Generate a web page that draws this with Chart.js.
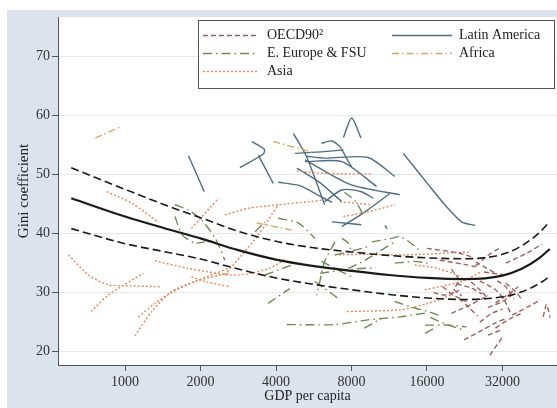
<!DOCTYPE html>
<html>
<head>
<meta charset="utf-8">
<script src="https://cdn.jsdelivr.net/npm/chart.js@4"></script>
<style>
  html, body { margin: 0; padding: 0; background: #fff; }
  canvas { display: block; }
</style>
</head>
<body>
<canvas id="chart" width="557" height="408"></canvas>
<script>
// axis ticks
const X_TICKS = [1000, 2000, 4000, 8000, 16000, 32000];
const Y_TICKS = [20, 30, 40, 50, 60, 70];

// fitted curve with its band (GDP per capita, Gini)
const FIT_GDP = [610, 1000, 1414, 2000, 2828, 4000, 5657, 8000, 11314, 16000, 22627, 32000, 38000, 45000, 49400];
const FIT_MID = [46.0, 42.9, 41.0, 39.2, 37.2, 35.6, 34.5, 33.7, 33.0, 32.5, 32.3, 32.9, 34.0, 35.9, 37.4];
const FIT_HIGH = [51.15, 47.5, 45.0, 42.7, 40.4, 38.7, 37.6, 36.9, 36.3, 35.9, 35.75, 36.5, 37.9, 40.2, 42.05];
const FIT_LOW = [40.85, 38.3, 37.0, 35.7, 34.0, 32.5, 31.4, 30.5, 29.7, 29.1, 28.85, 29.3, 30.1, 31.6, 32.75];

// country paths: [GDP per capita, Gini]
const OECD = [
  [[16000, 37.5], [21000, 36.8], [24000, 36.1]],
  [[18000, 35.5], [22500, 34.8], [25000, 34.4]],
  [[25000, 35.2], [30000, 33.3]],
  [[25000, 34.5], [28000, 36.3], [31000, 37.5]],
  [[20000, 34.0], [21500, 32.0], [20500, 30.6], [22000, 29.5]],
  [[21000, 31.5], [24000, 30.8], [26500, 29.8]],
  [[26000, 32.0], [30000, 30.5], [32500, 28.8], [34500, 26.5]],
  [[30000, 28.3], [34000, 29.8], [37000, 31.0]],
  [[33000, 31.6], [36000, 30.2], [38500, 28.7]],
  [[22500, 22.0], [26700, 23.7], [29700, 24.8], [33000, 25.6]],
  [[28500, 19.4], [32000, 22.5]],
  [[30000, 24.0], [34000, 25.5], [38000, 26.5]],
  [[35000, 26.2], [40000, 27.5], [45500, 28.8]],
  [[46500, 25.9], [48000, 28.0], [49500, 25.8]],
  [[28000, 27.5], [32000, 28.5], [36000, 30.0]],
  [[27000, 33.5], [33000, 33.0]],
  [[33000, 35.0], [40000, 36.7], [46000, 38.2]],
  [[18500, 31.0], [20500, 29.5], [23000, 28.5]],
  [[17000, 30.0], [19000, 29.6], [21500, 30.4]],
  [[21500, 29.0], [23500, 27.5], [25500, 26.0]],
  [[30500, 32.0], [33000, 31.0], [35500, 29.0]],
  [[24000, 31.8], [26000, 30.5], [28000, 29.0]],
  [[20000, 26.5], [24000, 28.0], [28000, 29.5]],
  [[26000, 25.0], [29000, 26.5], [32000, 27.2]],
  [[28000, 22.8], [31700, 23.7]]
];

const LATAM = [
  [[1790, 53.2], [2070, 47.1]],
  [[3200, 55.6], [3590, 54.3], [3560, 53.5], [2870, 51.2]],
  [[3400, 53.3], [3900, 48.5]],
  [[4690, 57.0], [5300, 53.0], [6250, 44.9]],
  [[4840, 51.1], [6000, 48.6], [7320, 45.4]],
  [[4080, 48.7], [5000, 48.1], [5900, 46.5], [6700, 45.3]],
  [[7430, 56.3], [8010, 59.6], [8730, 56.2]],
  [[6070, 55.3], [6680, 55.7], [7200, 54.7], [7770, 52.2], [8000, 51.4]],
  [[4760, 53.6], [6250, 53.9], [7430, 54.2]],
  [[5300, 53.1], [6250, 52.8], [9300, 52.9], [11900, 49.7]],
  [[5220, 52.2], [7320, 52.2], [10070, 48.0]],
  [[6250, 45.4], [7320, 47.4], [8760, 47.1], [9770, 46.0]],
  [[7320, 41.2], [9060, 43.7], [11370, 46.8]],
  [[6680, 42.0], [8760, 41.5]],
  [[10880, 41.4], [11100, 40.8]],
  [[12860, 53.6], [16200, 48.3], [18850, 44.9], [22000, 42.0], [24900, 41.4]],
  [[5220, 52.5], [7930, 48.3], [12460, 46.6]]
];

const EEUROPE = [
  [[1580, 44.9], [1790, 44.0], [2020, 42.3], [2290, 39.2], [2500, 35.5]],
  [[1580, 42.9], [1690, 39.8], [1900, 38.4], [2080, 38.6]],
  [[3300, 40.3], [3610, 42.0]],
  [[4080, 42.6], [4910, 41.8], [5720, 39.2]],
  [[3610, 33.0], [4620, 34.7]],
  [[3720, 28.2], [4540, 30.7]],
  [[4420, 24.6], [6870, 24.6], [9300, 25.4], [12460, 25.9], [16000, 26.6]],
  [[7320, 39.2], [7770, 38.4], [8000, 36.9]],
  [[6870, 38.6], [6250, 35.3], [5980, 31.9], [5810, 29.6]],
  [[5720, 31.9], [6250, 30.7], [7040, 29.1]],
  [[6070, 35.3], [6870, 34.1], [8000, 32.7]],
  [[6870, 36.4], [7770, 36.9], [9300, 37.8]],
  [[7770, 34.1], [9060, 35.5], [10240, 36.9], [11900, 38.6]],
  [[7500, 47.0], [8300, 45.5], [8900, 43.2]],
  [[9630, 38.6], [11550, 39.2], [12460, 39.5], [13400, 38.8], [15200, 36.9]],
  [[11900, 35.0], [14300, 35.3], [16200, 35.0]],
  [[11900, 28.5], [14300, 27.4], [16200, 26.8], [17800, 26.2]],
  [[15700, 24.5], [19400, 24.5], [23000, 24.2]],
  [[15700, 23.1], [17500, 24.2]],
  [[16500, 25.8], [19500, 24.5], [22000, 23.8]],
  [[9000, 24.0], [10500, 25.6]],
  [[6000, 33.3], [8000, 34.0], [10000, 34.2]]
];

const AFRICA = [
  [[760, 56.2], [960, 58.1]],
  [[3900, 55.6], [5600, 53.8]],
  [[3350, 41.8], [4620, 40.6]]
];

const ASIA = [
  [[845, 47.1], [1060, 45.2], [1360, 41.9]],
  [[595, 36.4], [714, 33.0], [858, 31.3], [970, 31.2], [1400, 31.0]],
  [[732, 26.8], [858, 29.6], [1180, 33.3]],
  [[1096, 22.7], [1277, 26.8], [1535, 30.2], [1900, 31.9], [2580, 34.1]],
  [[1130, 25.9], [1317, 28.2], [1511, 29.9], [1900, 31.9], [2580, 33.3]],
  [[1317, 35.4], [1790, 34.1], [2620, 33.0], [3100, 33.2], [3800, 34.2], [4400, 35.8]],
  [[1840, 32.7], [2080, 31.9], [2620, 31.0]],
  [[1840, 40.9], [2360, 46.0]],
  [[2500, 33.0], [2920, 36.4], [3400, 39.8], [4080, 44.9]],
  [[2500, 43.2], [3100, 44.3], [4080, 44.9], [5370, 45.4], [6250, 45.7]],
  [[4840, 50.6], [6250, 50.2], [9630, 50.1]],
  [[7430, 42.9], [9330, 43.7], [11900, 44.9]],
  [[7200, 45.4], [9600, 44.9]],
  [[6870, 36.4], [9060, 36.5], [12460, 36.4], [15200, 36.5], [19000, 36.7], [23700, 36.9]],
  [[7670, 26.8], [12460, 27.1], [16200, 28.2], [20000, 29.6]],
  [[15700, 30.5], [22000, 31.9], [26500, 33.6]],
  [[14300, 34.7], [17700, 34.1], [22000, 32.7]]
];

// legend order, as laid out in the box
const LEGEND_LABELS = ['OECD90\u00B2', 'Latin America', 'E. Europe & FSU', 'Africa', 'Asia'];
const LEGEND_KEYS = ['oecd', 'latam', 'eeur', 'africa', 'asia'];

const STYLES = {
  oecd: { color: '#a0605c', dash: [5, 3] },
  latam: { color: '#4b6f86', dash: [] },
  eeur: { color: '#6c8c4e', dash: [9, 4, 1.5, 4] },
  africa: { color: '#dba462', dash: [7, 3, 1.5, 3] },
  asia: { color: '#e4895a', dash: [2, 2] }
};

const FONT = "'Liberation Serif', 'Times New Roman', serif";

function pathSet(points, key) {
  const st = STYLES[key];
  return {
    data: points.map(p => ({ x: p[0], y: p[1] })),
    borderColor: st.color,
    borderWidth: 1.4,
    borderDash: st.dash,
    pointRadius: 0,
    tension: 0.25,
    fill: false,
    order: 2
  };
}

function fitSet(values, dashed) {
  return {
    data: FIT_GDP.map((g, i) => ({ x: g, y: values[i] })),
    borderColor: '#1a1a1a',
    borderWidth: dashed ? 1.6 : 2.2,
    borderDash: dashed ? [8, 4] : [],
    pointRadius: 0,
    cubicInterpolationMode: 'monotone',
    fill: false,
    order: 1
  };
}

const datasets = [];
OECD.forEach(p => datasets.push(pathSet(p, 'oecd')));
EEUROPE.forEach(p => datasets.push(pathSet(p, 'eeur')));
ASIA.forEach(p => datasets.push(pathSet(p, 'asia')));
AFRICA.forEach(p => datasets.push(pathSet(p, 'africa')));
LATAM.forEach(p => datasets.push(pathSet(p, 'latam')));
datasets.push(fitSet(FIT_HIGH, true));
datasets.push(fitSet(FIT_LOW, true));
datasets.push(fitSet(FIT_MID, false));

// white page, bluish frame, white plot region
const backdrop = {
  id: 'backdrop',
  beforeDraw(chart) {
    const { ctx, width, height, chartArea: a } = chart;
    ctx.save();
    ctx.fillStyle = '#ffffff';
    ctx.fillRect(0, 0, width, height);
    ctx.fillStyle = '#dce3ed';
    ctx.fillRect(7, 10, width - 7, height - 10);
    ctx.fillStyle = '#ffffff';
    ctx.fillRect(a.left, a.top, a.right - a.left, a.bottom - a.top);
    ctx.restore();
  }
};

// boxed legend in the upper right of the plot
const boxLegend = {
  id: 'boxLegend',
  afterDatasetsDraw(chart) {
    const ctx = chart.ctx;
    const box = { x: 198.5, y: 20.5, w: 356, h: 68 };
    ctx.save();
    ctx.fillStyle = '#ffffff';
    ctx.fillRect(box.x, box.y, box.w, box.h);
    ctx.strokeStyle = '#555555';
    ctx.lineWidth = 1;
    ctx.setLineDash([]);
    ctx.strokeRect(box.x, box.y, box.w, box.h);
    const cols = [{ x0: 203, x1: 258, tx: 267 }, { x0: 392, x1: 452, tx: 459 }];
    const rows = [35.5, 53.5, 71.5];
    ctx.font = '14px ' + FONT;
    ctx.textBaseline = 'middle';
    LEGEND_LABELS.forEach((label, i) => {
      const c = cols[i % 2];
      const y = rows[Math.floor(i / 2)];
      const st = STYLES[LEGEND_KEYS[i]];
      ctx.strokeStyle = st.color;
      ctx.lineWidth = 1.4;
      ctx.setLineDash(st.dash);
      ctx.beginPath();
      ctx.moveTo(c.x0, y);
      ctx.lineTo(c.x1, y);
      ctx.stroke();
      ctx.setLineDash([]);
      ctx.fillStyle = '#222222';
      ctx.fillText(label, c.tx, y);
    });
    ctx.restore();
  }
};

new Chart(document.getElementById('chart'), {
  type: 'line',
  data: { datasets },
  options: {
    responsive: false,
    animation: false,
    devicePixelRatio: 1,
    layout: { padding: { left: 7, top: 17, right: 0, bottom: 0 } },
    plugins: { legend: { display: false }, tooltip: { enabled: false } },
    scales: {
      x: {
        type: 'logarithmic',
        min: 540,
        max: 52800,
        afterBuildTicks: s => { s.ticks = X_TICKS.map(v => ({ value: v })); },
        afterFit: s => { s.height = 43; },
        ticks: {
          callback: v => String(v),
          color: '#333333',
          font: { family: FONT, size: 14 },
          padding: 3,
          maxRotation: 0,
          autoSkip: false
        },
        grid: { drawOnChartArea: false, drawTicks: true, tickLength: 6, tickColor: '#555555' },
        border: { color: '#555555', width: 1 },
        title: {
          display: true,
          text: 'GDP per capita',
          color: '#222222',
          font: { family: FONT, size: 14 },
          padding: { top: 0, bottom: 3 }
        }
      },
      y: {
        type: 'linear',
        min: 17.75,
        max: 76.7,
        afterBuildTicks: s => { s.ticks = Y_TICKS.map(v => ({ value: v })); },
        afterFit: s => { s.width = 51; },
        ticks: {
          color: '#333333',
          font: { family: FONT, size: 14 },
          padding: 2
        },
        grid: { color: '#e4e9f0', lineWidth: 1, drawTicks: true, tickLength: 6, tickColor: '#555555' },
        border: { color: '#555555', width: 1 },
        title: {
          display: true,
          text: 'Gini coefficient',
          color: '#222222',
          font: { family: FONT, size: 15 },
          padding: { top: 8, bottom: 0 }
        }
      }
    }
  },
  plugins: [backdrop, boxLegend]
});
</script>
</body>
</html>
